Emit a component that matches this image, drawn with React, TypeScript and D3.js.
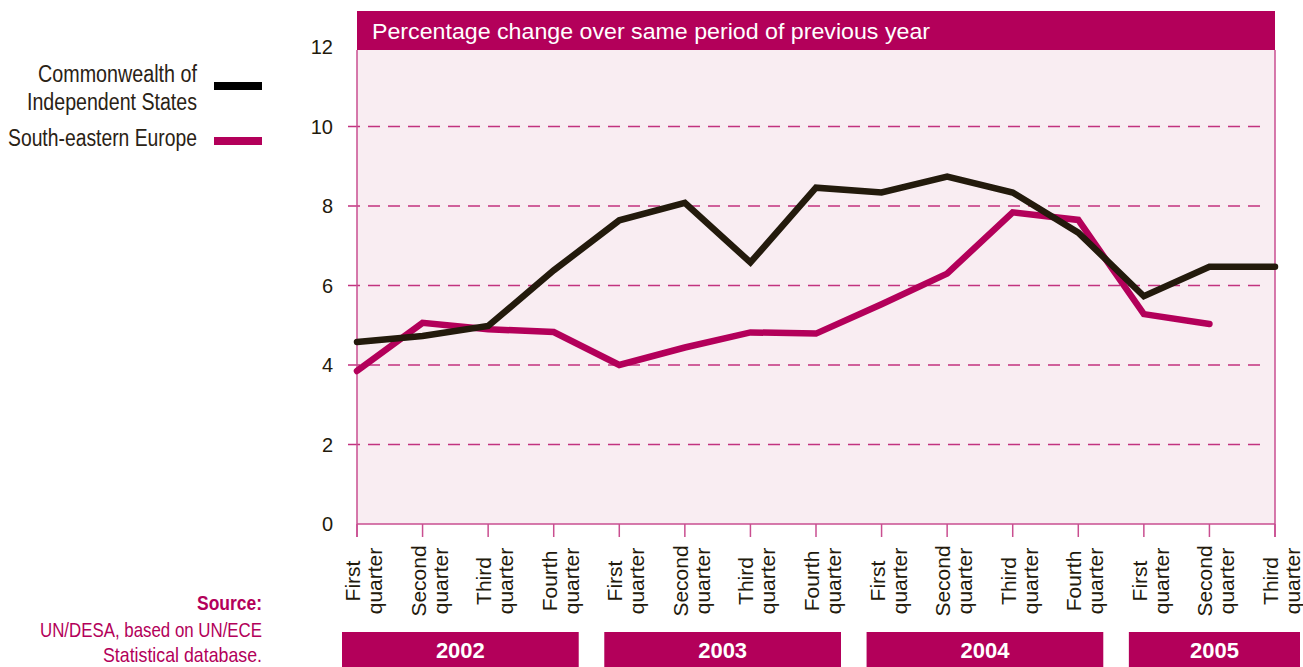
import React, { useEffect, useRef } from "react";
import * as d3 from "d3";

const periods = [
	"2002Q1", "2002Q2", "2002Q3", "2002Q4",
	"2003Q1", "2003Q2", "2003Q3", "2003Q4",
	"2004Q1", "2004Q2", "2004Q3", "2004Q4",
	"2005Q1", "2005Q2", "2005Q3",
];
const quarterNames = ["First", "Second", "Third", "Fourth"];
const years = ["2002", "2003", "2004", "2005"];

const cis = [4.58, 4.73, 4.98, 6.38, 7.64, 8.08, 6.58, 8.46, 8.34, 8.74, 8.34, 7.33, 5.73, 6.47, 6.47];
const see = [3.85, 5.06, 4.9, 4.83, 4.0, 4.44, 4.82, 4.79, 5.53, 6.3, 7.84, 7.65, 5.28, 5.03];

const yTicks = [0, 2, 4, 6, 8, 10, 12];

const W = 1303;
const H = 667;
const MAGENTA = "#b3005a";
const DARK = "#231a0c";
const AXIS = "#c94e90";
const SANS = "'Liberation Sans', Arial, sans-serif";

const Chart: React.FC = () => {
	const ref = useRef<SVGSVGElement>(null);

	useEffect(() => {
		const svg = d3.select(ref.current);
		svg.selectAll("*").remove();

		const left = 357, right = 1275, top = 11, barBottom = 50, bottom = 524;

		const x = d3.scalePoint<string>().domain(periods).range([left, right]);
		const y = d3.scaleLinear().domain([0, 12]).range([bottom, 47]);

		// plot background + title bar
		svg.append("rect")
			.attr("x", left).attr("y", barBottom)
			.attr("width", right - left).attr("height", bottom - barBottom)
			.attr("fill", "#f9edf2");
		svg.append("rect")
			.attr("x", left).attr("y", top)
			.attr("width", right - left).attr("height", barBottom - top)
			.attr("fill", MAGENTA);
		svg.append("text")
			.attr("x", 372).attr("y", 39)
			.attr("fill", "white")
			.attr("textLength", 558)
			.attr("lengthAdjust", "spacingAndGlyphs")
			.style("font-family", SANS)
			.style("font-size", "22px")
			.text("Percentage change over same period of previous year");

		// gridlines
		svg.append("g")
			.selectAll("line")
			.data(yTicks.filter((t) => t > 0 && t < 12))
			.join("line")
			.attr("x1", 348).attr("x2", 1266)
			.attr("y1", (d) => y(d)).attr("y2", (d) => y(d))
			.attr("stroke", "#c2327f")
			.attr("stroke-width", 1.3)
			.attr("stroke-dasharray", "12,8");

		// frame
		const frame = svg.append("g").attr("stroke", AXIS).attr("stroke-width", 1.5);
		frame.append("line").attr("x1", left).attr("x2", left).attr("y1", barBottom).attr("y2", 537);
		frame.append("line").attr("x1", right).attr("x2", right).attr("y1", barBottom).attr("y2", 537);
		frame.append("line").attr("x1", left).attr("x2", right).attr("y1", bottom).attr("y2", bottom);
		frame.selectAll("line.tick")
			.data(periods)
			.join("line")
			.attr("class", "tick")
			.attr("x1", (d) => x(d)!).attr("x2", (d) => x(d)!)
			.attr("y1", bottom).attr("y2", 537);

		// y labels
		svg.append("g")
			.selectAll("text")
			.data(yTicks)
			.join("text")
			.attr("x", 333)
			.attr("y", (d) => y(d) + 7)
			.attr("text-anchor", "end")
			.attr("fill", "#231a0c")
			.style("font-family", SANS)
			.style("font-size", "20px")
			.text((d) => d);

		// quarter labels
		const ql = svg.append("g")
			.selectAll("text")
			.data(periods)
			.join("text")
			.attr("transform", (d) => `translate(${x(d)! + 5},581) rotate(-90)`)
			.attr("text-anchor", "middle")
			.attr("fill", "#231a0c")
			.style("font-family", SANS)
			.style("font-size", "21px");
		ql.append("tspan").attr("x", 0).attr("dy", -2)
			.text((d) => quarterNames[+d.slice(5) - 1]);
		ql.append("tspan").attr("x", 0).attr("dy", 22).text("quarter");

		// year bars
		const yb = svg.append("g")
			.selectAll("g")
			.data(years)
			.join("g");
		const yrExtent = (yr: string) => {
			const ps = periods.filter((p) => p.startsWith(yr));
			const x0 = x(ps[0])! - 15;
			const x1 = x(ps[ps.length - 1])! + 25;
			return [x0, x1];
		};
		yb.append("rect")
			.attr("x", (d) => yrExtent(d)[0])
			.attr("width", (d) => yrExtent(d)[1] - yrExtent(d)[0])
			.attr("y", 632).attr("height", 35)
			.attr("fill", MAGENTA);
		yb.append("text")
			.attr("x", (d) => (yrExtent(d)[0] + yrExtent(d)[1]) / 2)
			.attr("y", 658)
			.attr("text-anchor", "middle")
			.attr("fill", "white")
			.style("font-family", SANS)
			.style("font-size", "22px")
			.style("font-weight", "bold")
			.text((d) => d);

		// lines
		const line = d3.line<number>()
			.x((_, i) => x(periods[i])!)
			.y((d) => y(d));
		svg.append("path")
			.attr("d", line(see))
			.attr("fill", "none")
			.attr("stroke", MAGENTA)
			.attr("stroke-width", 6.5)
			.attr("stroke-linecap", "round")
			.attr("stroke-linejoin", "miter");
		svg.append("path")
			.attr("d", line(cis))
			.attr("fill", "none")
			.attr("stroke", DARK)
			.attr("stroke-width", 6.5)
			.attr("stroke-linecap", "round")
			.attr("stroke-linejoin", "miter");

		// legend (condensed lettering squeezed to the original widths)
		const legend = svg.append("g")
			.style("font-family", SANS)
			.style("font-size", "23px")
			.attr("fill", "#2a2215")
			.attr("text-anchor", "end");
		const legendText: [string, number, number][] = [
			["Commonwealth of", 82, 159],
			["Independent States", 110, 170],
			["South-eastern Europe", 146, 189],
		];
		legendText.forEach(([t, ty, len]) => {
			legend.append("text")
				.attr("x", 197).attr("y", ty)
				.attr("textLength", len)
				.attr("lengthAdjust", "spacingAndGlyphs")
				.text(t);
		});
		legend.append("rect").attr("x", 214).attr("y", 82).attr("width", 48).attr("height", 8).attr("fill", "#000");
		legend.append("rect").attr("x", 214).attr("y", 137).attr("width", 48).attr("height", 8).attr("fill", MAGENTA);

		// source
		const src = svg.append("g")
			.style("font-family", SANS)
			.style("font-size", "21px")
			.attr("fill", MAGENTA)
			.attr("text-anchor", "end");
		const srcText: [string, number, number, boolean][] = [
			["Source:", 610, 65, true],
			["UN/DESA, based on UN/ECE", 637, 222, false],
			["Statistical database.", 662, 159, false],
		];
		srcText.forEach(([t, ty, len, bold]) => {
			src.append("text")
				.attr("x", 262).attr("y", ty)
				.attr("textLength", len)
				.attr("lengthAdjust", "spacingAndGlyphs")
				.style("font-weight", bold ? "bold" : "normal")
				.text(t);
		});
	}, []);

	return (
		<svg
			ref={ref}
			width={W}
			height={H}
			style={{ position: "absolute", left: 0, top: 0, background: "white" }}
		/>
	);
};

export default function App() {
	return <Chart />;
}
